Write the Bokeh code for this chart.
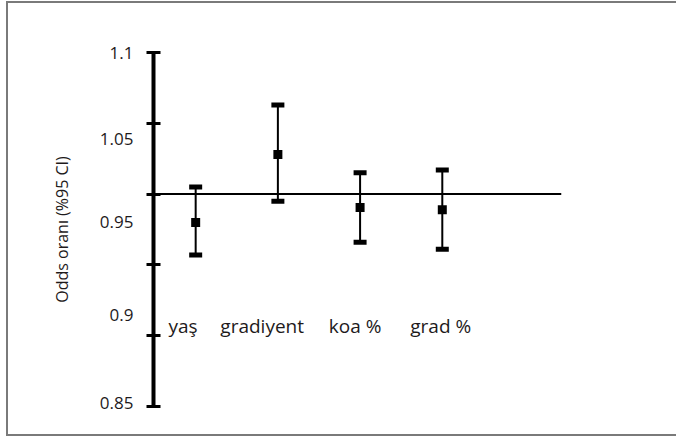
from bokeh.plotting import figure
from bokeh.models import Range1d, FixedTicker, LinearAxis, Span, InlineStyleSheet, ColumnDataSource
from bokeh.embed import file_html
from bokeh.resources import INLINE
from bokeh.core.properties import value

# ---- data ----
categories = ["yaş", "gradiyent", "koa %", "grad %"]
odds = [0.980, 1.028, 0.9905, 0.989]
ci_low = [0.957, 0.995, 0.966, 0.961]
ci_high = [1.005, 1.063, 1.015, 1.017]
reference_value = 1.0

y_ticks = [0.85, 0.9, 0.95, 1.0, 1.05, 1.1]
y_tick_labels = ["1.1", "1.05", "0.95", "0.9", "0.85"]
y_tick_label_pos = [1.1, 1.0392, 0.980, 0.9145, 0.8528]
cat_label_x = [0.67, 1.30, 2.62, 3.61]
cat_label_y = 0.907

FONT = "Open Sans"
TXT = "#1e1a1b"

xs = list(range(1, len(categories) + 1))
src = ColumnDataSource(dict(x=xs, odds=odds, lo=ci_low, hi=ci_high))

p = figure(width=676, height=428, output_backend="svg", toolbar_location=None,
           x_range=Range1d(0.487, 5.45), y_range=Range1d(0.85, 1.1),
           min_border_left=153, min_border_top=52, min_border_bottom=22, min_border_right=115)
p.xaxis.visible = False
p.yaxis.visible = False
p.grid.visible = False
p.outline_line_color = None
p.background_fill_color = "white"
p.border_fill_color = "white"

# inner axis: tick marks only
ax_a = LinearAxis(ticker=FixedTicker(ticks=y_ticks, minor_ticks=[]))
ax_a.axis_line_width = 4
ax_a.axis_line_color = "black"
ax_a.major_tick_line_width = 3
ax_a.major_tick_line_color = "black"
ax_a.major_tick_in = 7
ax_a.major_tick_out = 7
ax_a.minor_tick_line_color = None
ax_a.major_label_overrides = {t: "" for t in y_ticks}
ax_a.major_label_text_font_size = "1px"
ax_a.major_label_standoff = 0
p.add_layout(ax_a, "left")

# outer axis: labels
ax_b = LinearAxis(ticker=FixedTicker(ticks=y_tick_label_pos, minor_ticks=[]))
ax_b.axis_line_color = None
ax_b.major_tick_line_color = None
ax_b.minor_tick_line_color = None
ax_b.major_tick_in = 0
ax_b.major_tick_out = 0
ax_b.major_label_overrides = {v: t for v, t in zip(y_tick_label_pos, y_tick_labels)}
ax_b.major_label_text_font = FONT
ax_b.major_label_text_font_size = "17px"
ax_b.major_label_text_color = TXT
ax_b.major_label_standoff = 13
ax_b.axis_label = "Odds oranı (%95 CI)"
ax_b.axis_label_text_font = FONT
ax_b.axis_label_text_font_size = "16px"
ax_b.axis_label_text_font_style = "normal"
ax_b.axis_label_text_color = TXT
ax_b.axis_label_standoff = 24
p.add_layout(ax_b, "left")

p.add_layout(Span(location=reference_value, dimension="width", line_color="black", line_width=2))

p.segment(x0="x", y0="lo", x1="x", y1="hi", source=src, line_color="black", line_width=2)
p.rect(x="x", y="lo", width=13, height=5, width_units="screen", height_units="screen",
       source=src, fill_color="black", line_color=None)
p.rect(x="x", y="hi", width=13, height=5, width_units="screen", height_units="screen",
       source=src, fill_color="black", line_color=None)
p.scatter(x="x", y="odds", source=src, marker="square", size=9, fill_color="black", line_color=None)

p.text(x=cat_label_x, y=[cat_label_y] * len(categories), text=categories,
       text_font=value(FONT), text_font_size="19px", text_color=TXT,
       text_baseline="middle", text_align="left")

p.stylesheets = [InlineStyleSheet(css="""
:host { position: relative; overflow: visible; }
:host::before { content: ""; position: absolute; left: 6px; top: 1px; right: 0px; bottom: -8px;
  border-style: solid none solid solid; border-width: 2px 0 2px 2px; border-color: #7a7a7a;
  box-sizing: border-box; pointer-events: none; z-index: 10; }
""")]

open("out.html", "w").write(file_html(p, INLINE))
